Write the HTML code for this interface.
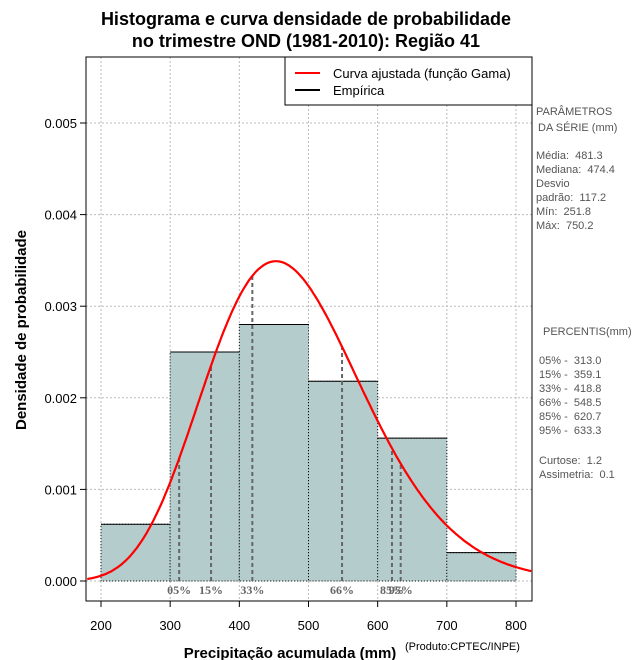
<!DOCTYPE html>
<html><head><meta charset="utf-8"><style>
body{margin:0;background:#fff}
svg{display:block;font-family:"Liberation Sans",sans-serif}
text{white-space:pre}
</style></head><body>
<svg id="c" width="640" height="660">
<g font-weight="bold" font-size="18" text-anchor="middle">
<text x="306" y="25">Histograma e curva densidade de probabilidade</text>
<text x="306" y="47">no trimestre OND (1981-2010): Região 41</text>
</g>
<g id="grid"></g>
<g id="bars"></g>
<g id="pct"></g>
<path id="curve" fill="none" stroke="#f00" stroke-width="2.2"/>
<rect x="86" y="57" width="446" height="544" fill="none" stroke="#000"/>
<g id="axes" font-size="13"></g>
<text x="290" y="658" font-size="15" font-weight="bold" text-anchor="middle">Precipitação acumulada (mm)</text>
<text x="405" y="650" font-size="11">(Produto:CPTEC/INPE)</text>
<text transform="translate(26,330) rotate(-90)" font-size="15" font-weight="bold" text-anchor="middle">Densidade de probabilidade</text>
<g>
<rect x="285" y="57" width="247" height="48" fill="#fff" stroke="#000"/>
<line x1="295" y1="73" x2="320" y2="73" stroke="#f00" stroke-width="2"/>
<line x1="295" y1="90" x2="320" y2="90" stroke="#000" stroke-width="2"/>
<text x="333" y="78" font-size="13">Curva ajustada (função Gama)</text>
<text x="333" y="95" font-size="13">Empírica</text>
</g>
<g font-size="11" fill="#555">
<text x="536" y="115">PARÂMETROS</text><text x="538" y="131">DA SÉRIE (mm)</text>
<text x="536" y="159">Média:  481.3</text><text x="536" y="173">Mediana:  474.4</text>
<text x="536" y="187">Desvio</text><text x="536" y="201">padrão:  117.2</text>
<text x="536" y="215">Mín:  251.8</text><text x="536" y="229">Máx:  750.2</text>
<text x="543" y="335">PERCENTIS(mm)</text>
<text x="539" y="364">05% -  313.0</text><text x="539" y="378">15% -  359.1</text>
<text x="539" y="392">33% -  418.8</text><text x="539" y="406">66% -  548.5</text>
<text x="539" y="420">85% -  620.7</text><text x="539" y="434">95% -  633.3</text>
<text x="539" y="464">Curtose:  1.2</text><text x="539" y="478">Assimetria:  0.1</text>
</g>
</svg>
<script>
const binStarts=[200,300,400,500,600,700];
const binWidth=100;
const densities=[0.00062,0.0025,0.0028,0.00218,0.00156,0.00031];
const percentileLabels=["05%","15%","33%","66%","85%","95%"];
const percentileValues=[313.0,359.1,418.8,548.5,620.7,633.3];
const meanVal=481.3, sdVal=117.2;
const xTicks=[200,300,400,500,600,700,800];
const yTicks=[0,0.001,0.002,0.003,0.004,0.005];
const yTickLabels=["0.000","0.001","0.002","0.003","0.004","0.005"];
const NS="http://www.w3.org/2000/svg";
const X=v=>101+(v-200)*415/600, Y=v=>581-v*91.6e3;
function mk(t,a,p){const e=document.createElementNS(NS,t);for(const k in a)e.setAttribute(k,a[k]);p.appendChild(e);return e;}
const k=(meanVal/sdVal)**2, th=sdVal*sdVal/meanVal;
function lgam(z){const g=7,c=[0.99999999999980993,676.5203681218851,-1259.1392167224028,771.32342877765313,-176.61502916214059,12.507343278686905,-0.13857109526572012,9.9843695780195716e-6,1.5056327351493116e-7];z-=1;let a=c[0];const t=z+g+0.5;for(let i=1;i<9;i++)a+=c[i]/(z+i);return 0.5*Math.log(2*Math.PI)+(z+0.5)*Math.log(t)-t+Math.log(a);}
const pdf=x=>Math.exp((k-1)*Math.log(x)-x/th-lgam(k)-k*Math.log(th));
const grid=document.getElementById('grid'),ax=document.getElementById('axes');
xTicks.forEach(v=>{const l=mk('line',{x1:X(v),x2:X(v),y1:57,y2:601,stroke:'#bbb','stroke-dasharray':'2,2'},grid);


mk('line',{x1:X(v),x2:X(v),y1:601,y2:607,stroke:'#000'},ax);
const t=mk('text',{x:X(v),y:630,'text-anchor':'middle'},ax);t.textContent=v;

});
yTicks.forEach((v,i)=>{const l=mk('line',{x1:86,x2:532,y1:Y(v),y2:Y(v),stroke:'#bbb','stroke-dasharray':'2,2'},grid);


mk('line',{x1:80,x2:86,y1:Y(v),y2:Y(v),stroke:'#000'},ax);
const t=mk('text',{x:77,y:Y(v)+5,'text-anchor':'end'},ax);t.textContent=yTickLabels[i];

});
const bars=document.getElementById('bars');
binStarts.forEach((s,i)=>{const x0=X(s),x1=X(s+binWidth),y=Y(densities[i]);
const r=mk('rect',{x:x0,y:y,width:x1-x0,height:Y(0)-y,fill:'#b4cccc',stroke:'#000','stroke-dasharray':'1,2'},bars);


mk('line',{x1:x0,x2:x1,y1:y,y2:y,stroke:'#000'},bars);});
const pct=document.getElementById('pct');
percentileValues.forEach((v,i)=>{const l=mk('line',{x1:X(v),x2:X(v),y1:Y(0),y2:Y(pdf(v)),stroke:'#666','stroke-width':2,'stroke-dasharray':'4,3'},pct);


const t=mk('text',{x:X(v),y:594,'text-anchor':'middle','font-size':12,'font-weight':'bold',fill:'#666','font-family':'Liberation Serif,serif'},pct);t.textContent=percentileLabels[i];

});
let d='';for(let x=180;x<=823;x+=2){d+=(d?'L':'M')+X(x).toFixed(1)+','+Y(pdf(x)).toFixed(1);}
document.getElementById('curve').setAttribute('d',d);
</script>
</body></html>
